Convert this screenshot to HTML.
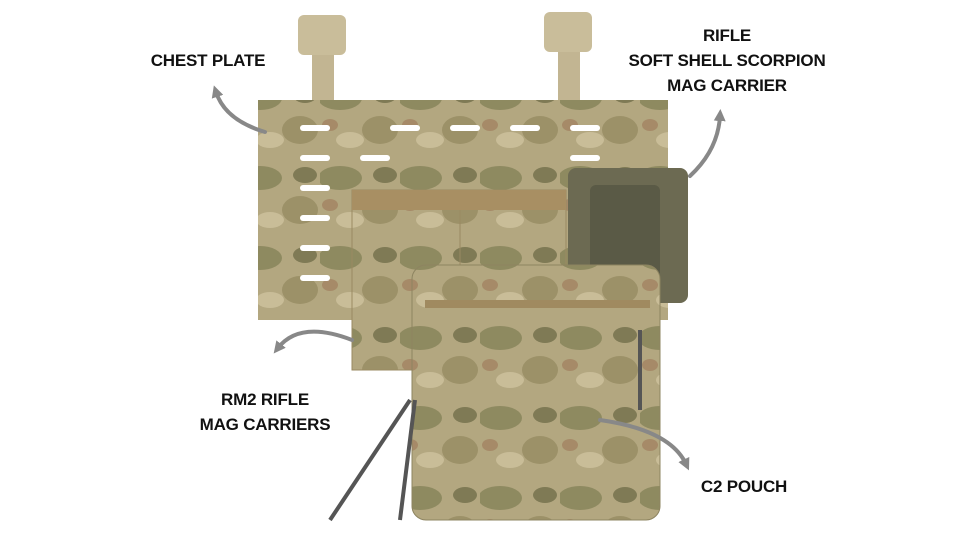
<!DOCTYPE html>
<html><head><meta charset="utf-8"><style>
html,body{margin:0;padding:0;background:#fff;}
body{width:978px;height:550px;position:relative;overflow:hidden;font-family:"Liberation Sans",sans-serif;}
.l{position:absolute;font-size:17px;color:#111;text-align:center;line-height:25px;font-weight:bold;letter-spacing:-0.2px;}
</style></head><body>
<svg width="978" height="550" style="position:absolute;left:0;top:0">
<defs>
<pattern id="camo" width="80" height="80" patternUnits="userSpaceOnUse">
<rect width="80" height="80" fill="#b3a780"/>
<ellipse cx="20" cy="18" rx="22" ry="12" fill="#8e8a60"/>
<ellipse cx="60" cy="50" rx="18" ry="14" fill="#9c9168"/>
<ellipse cx="30" cy="60" rx="14" ry="8" fill="#c9bd98"/>
<ellipse cx="65" cy="15" rx="12" ry="8" fill="#7f7a55"/>
<ellipse cx="10" cy="45" rx="8" ry="6" fill="#a68a68"/>
</pattern>
<marker id="ah" markerWidth="12" markerHeight="12" refX="5" refY="6" orient="auto" markerUnits="userSpaceOnUse" viewBox="0 0 12 12">
<path d="M0,0 L12,6 L0,12 z" fill="#888"/></marker>
</defs>
<rect x="298" y="15" width="48" height="40" rx="6" fill="#c9bd9a"/>
<rect x="312" y="55" width="22" height="50" fill="#c2b592"/>
<rect x="544" y="12" width="48" height="40" rx="6" fill="#c9bd9a"/>
<rect x="558" y="52" width="22" height="50" fill="#c2b592"/>
<rect x="258" y="100" width="410" height="220" fill="url(#camo)"/>
<g fill="#fff">
<rect x="300" y="125" width="30" height="6" rx="3"/><rect x="300" y="155" width="30" height="6" rx="3"/><rect x="300" y="185" width="30" height="6" rx="3"/><rect x="300" y="215" width="30" height="6" rx="3"/><rect x="300" y="245" width="30" height="6" rx="3"/><rect x="300" y="275" width="30" height="6" rx="3"/>
<rect x="390" y="125" width="30" height="6" rx="3"/><rect x="450" y="125" width="30" height="6" rx="3"/><rect x="510" y="125" width="30" height="6" rx="3"/><rect x="570" y="125" width="30" height="6" rx="3"/>
<rect x="570" y="155" width="30" height="6" rx="3"/><rect x="360" y="155" width="30" height="6" rx="3"/>
</g>
<rect x="352" y="190" width="108" height="180" fill="url(#camo)" stroke="#9a8a62"/>
<rect x="460" y="190" width="106" height="180" fill="url(#camo)" stroke="#9a8a62"/>
<rect x="352" y="190" width="108" height="20" fill="#a88f63"/>
<rect x="460" y="190" width="106" height="20" fill="#a88f63"/>
<rect x="568" y="168" width="120" height="135" rx="8" fill="#6c6a52"/>
<rect x="590" y="185" width="70" height="100" rx="6" fill="#5a5a46"/>
<rect x="412" y="265" width="248" height="255" rx="14" fill="url(#camo)" stroke="#8d8460"/>
<rect x="425" y="300" width="225" height="8" fill="#a08a60"/>
<path d="M410,400 L330,520" stroke="#555" stroke-width="4"/>
<path d="M415,400 L400,520" stroke="#555" stroke-width="4"/>
<path d="M640,330 L640,410" stroke="#555" stroke-width="4"/>
<g fill="none" stroke="#888" stroke-width="4" stroke-linecap="round">
<path d="M265,132 Q225,120 216,92" marker-end="url(#ah)"/>
<path d="M690,176 Q718,150 720,116" marker-end="url(#ah)"/>
<path d="M352,340 Q300,320 278,348" marker-end="url(#ah)"/>
<path d="M600,420 Q670,430 686,464" marker-end="url(#ah)"/>
</g>
</svg>
<div class="l" style="left:140px;top:48px;width:136px">CHEST PLATE</div>
<div class="l" style="left:610px;top:23px;width:234px">RIFLE<br>SOFT SHELL SCORPION<br>MAG CARRIER</div>
<div class="l" style="left:180px;top:387px;width:170px">RM2 RIFLE<br>MAG CARRIERS</div>
<div class="l" style="left:690px;top:474px;width:108px">C2 POUCH</div>
</body></html>
